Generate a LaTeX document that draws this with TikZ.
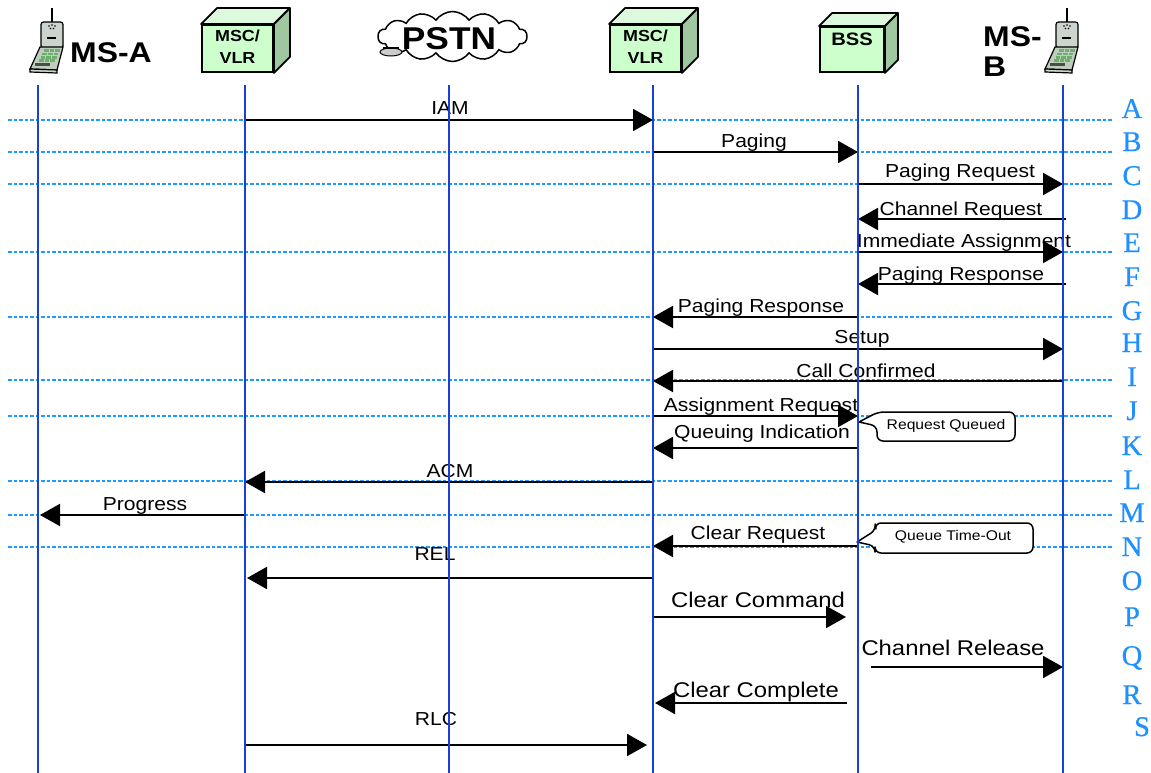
\documentclass[tikz,border=0pt]{standalone}
\usepackage{fontspec}
\setmainfont{Liberation Sans}[FakeStretch=1.12]
\newfontfamily\letterfont{Liberation Serif}[FakeBold=0.6]
\usetikzlibrary{arrows.meta,shapes.symbols}

\definecolor{lifeblue}{RGB}{25,65,215}
\definecolor{rowblue}{RGB}{30,155,255}
\definecolor{letterblue}{RGB}{30,144,255}
\definecolor{cubefront}{RGB}{204,255,204}
\definecolor{cubetop}{RGB}{222,250,222}
\definecolor{cubeside}{RGB}{160,200,160}
\definecolor{phonegray}{RGB}{205,212,205}
\definecolor{phonelow}{RGB}{190,205,190}
\definecolor{keygreen}{RGB}{110,175,110}

\newcommand\mobilephone[2]{%
\begin{scope}[shift={(#1,#2)}]
  \draw[line width=2pt] (22,0) -- (22,15);
  \draw[fill=phonegray, line width=1.2pt, rounded corners=2.5pt] (11,14) rectangle (33,40);
  \foreach \dx/\dy in {19/18,22/17,25/18,20.5/20.5,23.5/20.5}
    \fill (\dx,\dy) circle (0.8pt);
  \draw[line width=2.2pt] (17,30) -- (26,30);
  \draw[fill=phonelow, line width=1.2pt] (10,39) -- (33,39) -- (27,62) -- (0,61) -- cycle;
  \draw[fill=phonegray, line width=1.2pt] (0,61) -- (27,62) -- (27,65) -- (0,64) -- cycle;
  \foreach \r in {0,1,2,3}
    \foreach \c in {0,1,2}
      \fill[keygreen] ({14+5.7*\c-1.7*\r},{41.5+3.3*\r}) rectangle ++(4.6,2.5);
  \fill[black!70] (5,55.5) rectangle (20,58);
\end{scope}}

\begin{document}
\begin{tikzpicture}[x=1pt,y=-1pt,
  life/.style={draw=lifeblue, line width=2pt},
  rowline/.style={draw=rowblue, line width=1.3pt, dash pattern=on 3.5pt off 2pt},
  msg/.style={draw=black, line width=2pt, -{Triangle[length=20pt,width=22pt]}},
  lbl/.style={anchor=base, inner sep=0pt, font=\fontsize{18.8}{20}\selectfont},
  biglbl/.style={anchor=base, inner sep=0pt, font=\fontsize{21.3}{23}\selectfont},
  letter/.style={anchor=base, inner sep=0pt, text=letterblue, font=\letterfont\fontsize{28.5}{30}\selectfont},
  face/.style={draw=black, line width=1.8pt, fill=cubefront, inner sep=0pt},
  cubeedge/.style={draw=black, line width=1.8pt, line join=round},
  cubetxt/.style={align=center, inner sep=0pt, font=\bfseries\fontsize{16}{22}\selectfont},
  head/.style={inner sep=0pt, font=\bfseries\fontsize{28.5}{30}\selectfont},
  callout/.style={draw=black, line width=1.5pt, fill=white, line join=round},
  callouttxt/.style={inner sep=0pt, font=\fontsize{14}{16}\selectfont}
]
\fill[white] (0,0) rectangle (1151,773);
\useasboundingbox (0,0) rectangle (1151,773);

% ---------- header ----------
\mobilephone{30}{8}
\node[head, anchor=base west] (msaT) at (70,63) {MS-A};

\node[face, minimum width=71pt, minimum height=47pt] (msc1) at (237.5,48.5) {};
\draw[cubeedge, fill=cubetop] (msc1.north west) -- ++(16,-16) -- ([shift={(16,-16)}]msc1.north east) -- (msc1.north east) -- cycle;
\draw[cubeedge, fill=cubeside] (msc1.north east) -- ++(16,-16) -- ([shift={(16,-16)}]msc1.south east) -- (msc1.south east) -- cycle;
\node[cubetxt] (msc1T) at (237.5,46.5) {MSC/\\VLR};

\node[cloud, draw, line width=1.5pt, cloud puffs=14, cloud puff arc=110, aspect=3.2,
      minimum width=149pt, minimum height=50pt, inner sep=0pt] (pstn) at (452.5,36.5) {};
\draw[fill=gray!40, line width=1pt] (391,52) ellipse (11pt and 4pt);
\draw[line width=1.2pt] (383,48) -- (399,48);
\node[inner sep=0pt, anchor=base, font=\bfseries\fontsize{31.5}{33}\selectfont] (pstnT) at (449,50) {PSTN};

\node[face, minimum width=71pt, minimum height=47pt] (msc2) at (645.5,48.5) {};
\draw[cubeedge, fill=cubetop] (msc2.north west) -- ++(16,-16) -- ([shift={(16,-16)}]msc2.north east) -- (msc2.north east) -- cycle;
\draw[cubeedge, fill=cubeside] (msc2.north east) -- ++(16,-16) -- ([shift={(16,-16)}]msc2.south east) -- (msc2.south east) -- cycle;
\node[cubetxt] (msc2T) at (645.5,46.5) {MSC/\\VLR};

\node[face, minimum width=64pt, minimum height=45pt] (bss) at (852,49.5) {};
\draw[cubeedge, fill=cubetop] (bss.north west) -- ++(13,-13) -- ([shift={(13,-13)}]bss.north east) -- (bss.north east) -- cycle;
\draw[cubeedge, fill=cubeside] (bss.north east) -- ++(13,-13) -- ([shift={(13,-13)}]bss.south east) -- (bss.south east) -- cycle;
\node[inner sep=0pt, font=\bfseries\fontsize{18}{20}\selectfont] (bssT) at (852,39) {BSS};

\node[head, anchor=north west, align=left, font=\bfseries\fontsize{28.5}{30}\selectfont] (msbT) at (983,26.6) {MS-\\B};
\mobilephone{1045}{8}

% ---------- coordinates ----------
\coordinate (lmsa)  at (38,85);
\coordinate (lmsc1) at (245,85);
\coordinate (lpstn) at (449,85);
\coordinate (lmsc2) at (653,85);
\coordinate (lbss)  at (858,85);
\coordinate (lmsb)  at (1063,85);
\coordinate (bottom) at (0,773);
\coordinate (dl) at (8,0);
\coordinate (dr) at (1113,0);

\coordinate (rA) at (0,120);
\coordinate (rB) at (0,152);
\coordinate (rC) at (0,184);
\coordinate (rD) at (0,219);
\coordinate (rE) at (0,252);
\coordinate (rF) at (0,284);
\coordinate (rG) at (0,317);
\coordinate (rH) at (0,349);
\coordinate (rI) at (0,381);
\coordinate (rJ) at (0,416);
\coordinate (rK) at (0,448);
\coordinate (rL) at (0,482);
\coordinate (rM) at (0,515);
\coordinate (rN) at (0,546);
\coordinate (rO) at (0,578);
\coordinate (rP) at (0,617);
\coordinate (rQ) at (0,667);
\coordinate (rR) at (0,703);
\coordinate (rS) at (0,745);

% ---------- dashed rows ----------
\foreach \yy in {120,152,184,252,317,380,416,481,515,547}
  \draw[rowline] (dl |- 0,\yy) -- (dr |- 0,\yy);

% ---------- callouts ----------
\draw[callout, rounded corners=6pt] (877,426) [sharp corners] -- (859,422) [rounded corners=6pt] -- (878,412) -- (1015,412) -- (1015,441) -- (877,441) -- cycle;
\node[callouttxt] (rqT) at (946,426) {Request Queued};
\draw[callout, rounded corners=6pt] (875,546) [sharp corners] -- (857,542) [rounded corners=6pt] -- (876,530) -- (875,523) -- (1033,523) -- (1033,553) -- (875,553) -- cycle;
\node[callouttxt] (qtT) at (953,537) {Queue Time-Out};

% ---------- messages ----------
\draw[msg] (lmsc1 |- rA) -- (lmsc2 |- rA);
\draw[msg] (lmsc2 |- rB) -- (lbss |- rB);
\draw[msg] (lbss |- rC) -- (lmsb |- rC);
\draw[msg] ([xshift=3pt]lmsb |- rD) -- (lbss |- rD);
\draw[msg] (lbss |- rE) -- (lmsb |- rE);
\draw[msg] ([xshift=3pt]lmsb |- rF) -- (lbss |- rF);
\draw[msg] (lbss |- rG) -- (lmsc2 |- rG);
\draw[msg] (lmsc2 |- rH) -- (lmsb |- rH);
\draw[msg] (lmsb |- rI) -- (lmsc2 |- rI);
\draw[msg] (lmsc2 |- rJ) -- (lbss |- rJ);
\draw[msg] (lbss |- rK) -- (lmsc2 |- rK);
\draw[msg] (lmsc2 |- rL) -- (lmsc1 |- rL);
\draw[msg] (lmsc1 |- rM) -- ([xshift=2pt]lmsa |- rM);
\draw[msg] (lbss |- rN) -- (lmsc2 |- rN);
\draw[msg] (lmsc2 |- rO) -- ([xshift=2pt]lmsc1 |- rO);
\draw[msg] (lmsc2 |- rP) -- ([xshift=-12pt]lbss |- rP);
\draw[msg] ([xshift=13pt]lbss |- rQ) -- (lmsb |- rQ);
\draw[msg] ([xshift=-11pt]lbss |- rR) -- ([xshift=2pt]lmsc2 |- rR);
\draw[msg] (lmsc1 |- rS) -- ([xshift=-6pt]lmsc2 |- rS);

% ---------- labels ----------
\node[lbl] (tA) at (450,115) {IAM};
\node[lbl] (tB) at (754,147) {Paging};
\node[lbl] (tC) at (960,178) {Paging Request};
\node[lbl] (tD) at (961,215) {Channel Request};
\node[lbl] (tE) at (964,247) {Immediate Assignment};
\node[lbl] (tF) at (961,280) {Paging Response};
\node[lbl] (tG) at (761,312) {Paging Response};
\node[lbl] (tH) at (862,343) {Setup};
\node[lbl] (tI) at (866,377) {Call Confirmed};
\node[lbl] (tJ) at (761,411) {Assignment Request};
\node[lbl] (tK) at (762,438) {Queuing Indication};
\node[lbl] (tL) at (450,477) {ACM};
\node[lbl] (tM) at (145,510) {Progress};
\node[lbl] (tN) at (758,539) {Clear Request};
\node[lbl] (tO) at (435,560) {REL};
\node[biglbl] (tP) at (758,607) {Clear Command};
\node[biglbl] (tQ) at (953,655) {Channel Release};
\node[biglbl] (tR) at (756,697) {Clear Complete};
\node[lbl] (tS) at (436,725) {RLC};

% ---------- lifelines ----------
\foreach \ll in {lmsa,lmsc1,lpstn,lmsc2,lbss,lmsb}
  \draw[life] (\ll) -- (\ll |- bottom);

% ---------- row letters ----------
\node[letter] (LA) at (1132,118) {A};
\node[letter] (LB) at (1132,151) {B};
\node[letter] (LC) at (1132,185) {C};
\node[letter] (LD) at (1132,219) {D};
\node[letter] (LE) at (1132,252) {E};
\node[letter] (LF) at (1132,286) {F};
\node[letter] (LG) at (1132,320) {G};
\node[letter] (LH) at (1132,352) {H};
\node[letter] (LI) at (1132,386) {I};
\node[letter] (LJ) at (1132,420) {J};
\node[letter] (LK) at (1132,455) {K};
\node[letter] (LL) at (1132,489) {L};
\node[letter] (LM) at (1132,522) {M};
\node[letter] (LN) at (1132,556) {N};
\node[letter] (LO) at (1132,590) {O};
\node[letter] (LP) at (1132,626) {P};
\node[letter] (LQ) at (1132,665) {Q};
\node[letter] (LR) at (1132,704) {R};
\node[letter] (LS) at (1142,736) {S};
\end{tikzpicture}
\end{document}
